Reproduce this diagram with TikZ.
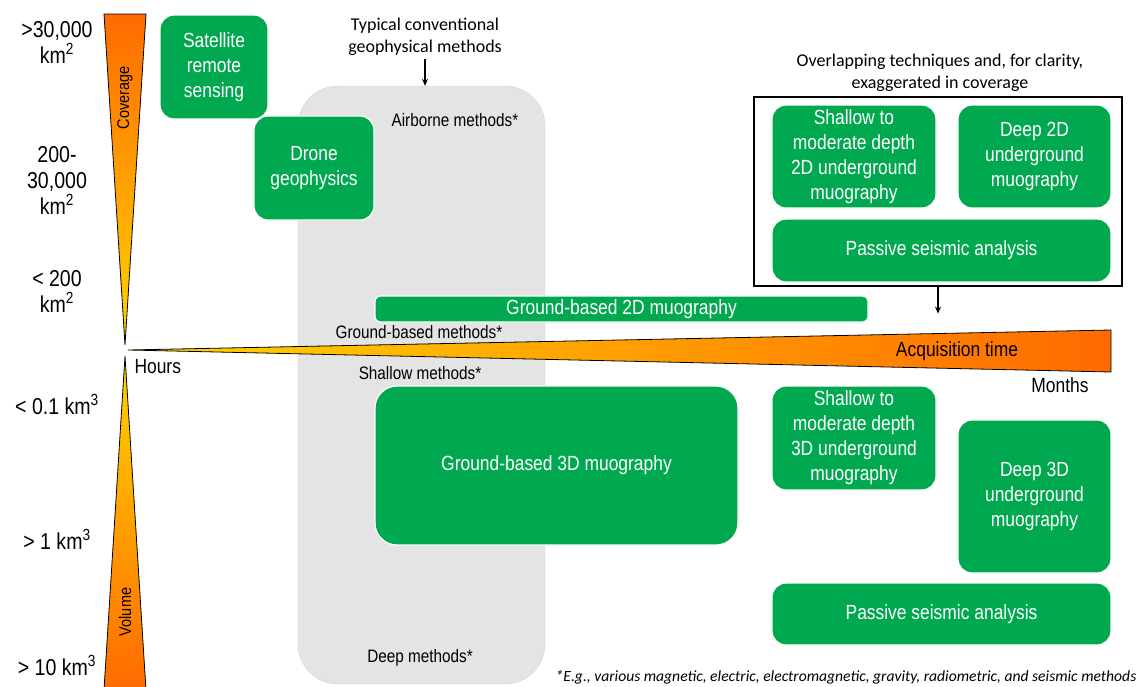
\documentclass[tikz,border=0pt]{standalone}
\usepackage{fontspec}
\setmainfont[FakeStretch=0.85]{Liberation Sans}
\newfontfamily\notefont{Carlito}
\usetikzlibrary{positioning,arrows.meta}
\definecolor{muogreen}{HTML}{00A94F}
\definecolor{hot}{HTML}{FF6A00}
\definecolor{warm}{HTML}{FFD500}
\definecolor{greyfill}{HTML}{E4E4E4}
\definecolor{greyline}{HTML}{D0D4D8}

\begin{document}
\begin{tikzpicture}[x=1pt, y=-1pt,
      greenbox/.style={fill=muogreen, draw=white, line width=1.2pt, rounded corners=14pt,
        text=white, align=center, inner sep=0pt, font=\fontsize{20.5}{25}\selectfont},
      scalelabel/.style={font=\fontsize{23}{26}\selectfont, align=center},
      methodlabel/.style={font=\fontsize{18}{22}\selectfont},
      notelabel/.style={font=\notefont\fontsize{18}{21.5}\selectfont, align=center},
      axislabel/.style={font=\fontsize{20.5}{24}\selectfont},
      wedge/.style={draw=black, line width=0.8pt, line join=miter},
      pointer/.style={-{Stealth[length=7pt, width=6pt]}, line width=1.2pt}]
  \useasboundingbox (0,0) rectangle (1138,686);

  % Conventional methods background
  \node[fill=greyfill, draw=greyline, rounded corners=40pt, minimum width=247, minimum height=598,
        inner sep=0pt] (conv) at (421.5,385) {};

  % Axes (wedges)
  \path[wedge, top color=hot, bottom color=warm] (104,14) -- (146,14) -- (125,345) -- cycle;
  \path[wedge, top color=warm, bottom color=hot] (125,356) -- (146,690) -- (104,690) -- cycle;
  \path[wedge, left color=warm, right color=hot] (128,350) -- (1111,330) -- (1111,372) -- cycle;
  \node[rotate=90, font=\fontsize{17}{20}\selectfont] (coverage) at (125,98) {Coverage};
  \node[rotate=90, font=\fontsize{17}{20}\selectfont] (volume) at (125,612) {Volume};
  \node[axislabel, anchor=west] (hours) at (131,367) {Hours};
  \node[axislabel] (months) at (1060,385) {Months};
  \node[axislabel] (acq) at (957,351) {Acquisition time};

  % Scale labels
  \node[scalelabel] (cov1) at (57,42) {>30,000\\km\textsuperscript{2}};
  \node[scalelabel] (cov2) at (57,180) {200-\\30,000\\km\textsuperscript{2}};
  \node[scalelabel] (cov3) at (57,291) {< 200\\km\textsuperscript{2}};
  \node[scalelabel] (vol1) at (57,404) {< 0.1 km\textsuperscript{3}};
  \node[scalelabel] (vol2) at (57,539) {> 1 km\textsuperscript{3}};
  \node[scalelabel] (vol3) at (57,665) {> 10 km\textsuperscript{3}};

  % Conventional method labels
  \node[notelabel] (typical) at (425,37) {Typical conventional\\geophysical methods};
  \draw[pointer] (typical.south) -- (typical.south |- conv.north);
  \node[methodlabel] (airborne) at (455,120) {Airborne methods*};
  \node[methodlabel] (groundm) at (419,332) {Ground-based methods*};
  \node[methodlabel] (shallowm) at (420,373) {Shallow methods*};
  \node[methodlabel] (deepm) at (420,658) {Deep methods*};

  % Airborne / remote
  \node[greenbox, minimum width=108, minimum height=104] (satellite) at (214,67)
        {Satellite\\remote\\sensing};
  \node[greenbox, minimum width=120, minimum height=104] (drone) at (314,168)
        {Drone\\geophysics};

  % Ground-based muography
  \node[greenbox, rounded corners=5pt, minimum width=493, minimum height=26] (gb2d) at (621.5,309)
        {Ground-based 2D muography};
  \node[greenbox, rounded corners=22pt, minimum width=363, minimum height=159] (gb3d) at (556.5,465.5)
        {Ground-based 3D muography};

  % Overlapping techniques (2D)
  \node[notelabel] (overlap) at (940,73) {Overlapping techniques and, for clarity,\\exaggerated in coverage};
  \node[draw=black, line width=1.2pt, minimum width=368, minimum height=189, inner sep=0pt] (frame)
        at (938,191.5) {};
  \node[greenbox, minimum width=164, minimum height=103] (shallow2d) at (854,156.5)
        {Shallow to\\moderate depth\\2D underground\\muography};
  \node[greenbox, minimum width=153, minimum height=103] (deep2d) at (1034.5,156.5)
        {Deep 2D\\underground\\muography};
  \node[greenbox, minimum width=339, minimum height=63] (passive2d) at (941.5,250.5)
        {Passive seismic analysis};
  \coordinate (frametip) at ([yshift=-27pt]frame.south);
  \draw[pointer] (frame.south) -- (frametip);

  % Underground 3D
  \node[greenbox, minimum width=164, minimum height=104] (shallow3d) at (854,438)
        {Shallow to\\moderate depth\\3D underground\\muography};
  \node[greenbox, minimum width=153, minimum height=153] (deep3d) at (1034.5,496.5)
        {Deep 3D\\underground\\muography};
  \node[greenbox, minimum width=339, minimum height=62] (passive3d) at (941.5,614)
        {Passive seismic analysis};

  % Footnote
  \node[font=\notefont\itshape\fontsize{15.6}{18}\selectfont] (footnote) at (846,677)
        {*E.g., various magnetic, electric, electromagnetic, gravity, radiometric, and seismic methods};
\end{tikzpicture}
\end{document}
